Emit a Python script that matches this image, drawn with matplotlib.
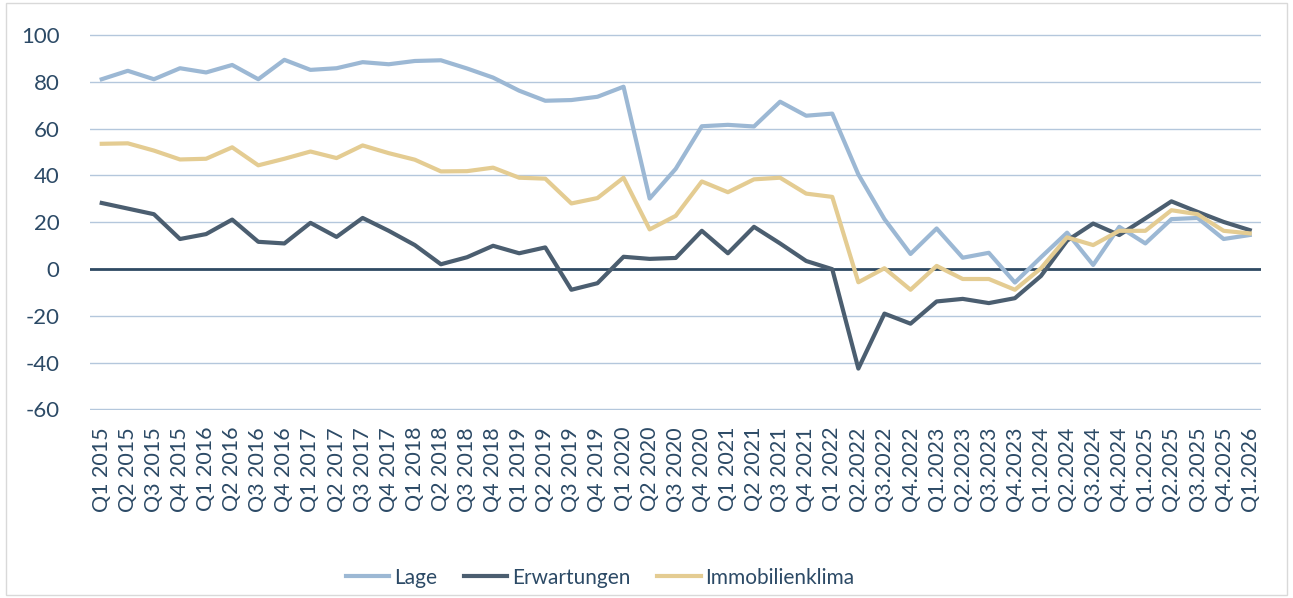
import numpy as np
import matplotlib.pyplot as plt
from matplotlib.patches import Rectangle

quarters = (["Q%d %d" % (q, y) for y in range(2015, 2022) for q in range(1, 5)]
            + ["Q1 2022"]
            + ["Q%d.%d" % (q, 2022) for q in (2, 3, 4)]
            + ["Q%d.%d" % (q, y) for y in (2023, 2024, 2025) for q in range(1, 5)]
            + ["Q1.2026"])

lage = [81.1, 84.7, 81.1, 85.8, 84.0, 87.2, 81.1, 89.4, 85.1, 85.8,
        88.4, 87.5, 88.9, 89.2, 85.7, 81.8, 76.2, 71.9, 72.2, 73.6,
        77.9, 30.1, 42.8, 61.0, 61.6, 60.9, 71.5, 65.5, 66.4, 40.4,
        21.3, 6.4, 17.3, 4.8, 6.9, -5.8, 5.0, 15.5, 1.7, 18.0,
        10.9, 21.3, 21.8, 12.8, 14.5]

erwartungen = [28.2, 25.8, 23.4, 12.8, 14.9, 21.1, 11.6, 10.9, 19.7, 13.7,
               21.8, 16.3, 10.2, 2.0, 5.0, 9.9, 6.7, 9.2, -8.9, -6.1,
               5.2, 4.3, 4.7, 16.3, 6.7, 18.0, 10.9, 3.4, -0.1, -42.6,
               -19.1, -23.4, -13.9, -12.8, -14.6, -12.5, -3.0, 12.1, 19.4, 14.5,
               21.6, 28.9, 24.4, 20.1, 16.6]

klima = [53.5, 53.7, 50.6, 46.8, 47.1, 52.0, 44.3, 47.1, 50.2, 47.4,
         52.8, 49.5, 46.7, 41.7, 41.8, 43.3, 39.0, 38.6, 28.0, 30.3,
         39.0, 16.9, 22.7, 37.4, 32.8, 38.3, 39.0, 32.2, 30.8, -5.7,
         0.3, -8.9, 1.3, -4.3, -4.3, -8.9, 0.3, 13.5, 10.2, 16.3,
         16.3, 25.1, 23.4, 16.3, 15.2]

txt = "#2c4a66"
plt.rcParams['font.family'] = ['Lato', 'DejaVu Sans']
plt.rcParams['axes.unicode_minus'] = False

fig = plt.figure(figsize=(12.93, 5.98), dpi=100)
ax = fig.add_axes([0.0696, 0.314, 0.906, 0.629])

x = np.arange(len(quarters))
ax.plot(x, lage, color="#9cb8d4", lw=3, label="Lage", zorder=3)
ax.plot(x, erwartungen, color="#4b5e70", lw=3, label="Erwartungen", zorder=3)
ax.plot(x, klima, color="#e4cc92", lw=3, label="Immobilienklima", zorder=3)

ax.set_ylim(-60.4, 100.4)
ax.set_yticks(range(-60, 101, 20))
ax.set_xlim(-0.45, len(quarters) - 0.55)
ax.set_xticks(x)
ax.set_xticklabels(quarters, rotation=90)
ax.grid(axis="y", color="#b4c7dc", lw=1)
ax.axhline(0, color="#2f4a63", lw=2, zorder=2)
for s in ax.spines.values():
    s.set_visible(False)
ax.tick_params(length=0, colors=txt)
ax.tick_params(axis="y", pad=22, labelsize=16)
ax.tick_params(axis="x", pad=12, labelsize=15.5)

fig.patches.append(Rectangle((0.005, 0.005), 0.99, 0.99, transform=fig.transFigure,
                             fill=False, edgecolor="#d9d9d9", lw=1))

leg = fig.legend(loc="center", bbox_to_anchor=(0.464, 0.034), ncol=3, frameon=False,
                 fontsize=15, handlelength=2.1, columnspacing=1.3, handletextpad=0.2)
for t in leg.get_texts():
    t.set_color(txt)

fig.savefig("out.png", dpi=100)
